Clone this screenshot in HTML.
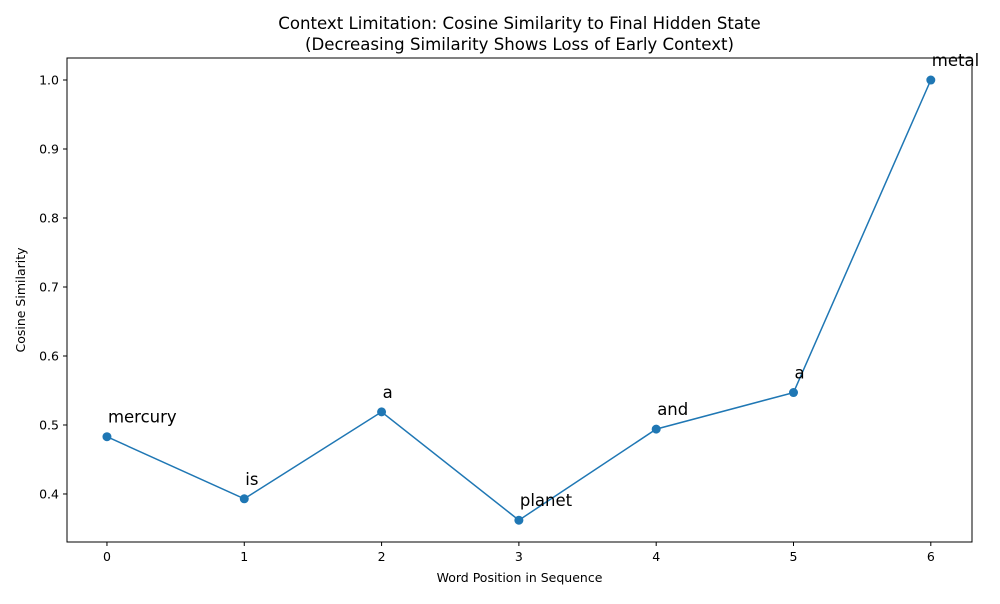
<!DOCTYPE html>
<html><head><meta charset="utf-8"><style>
body{margin:0;background:#fff;font-family:"DejaVu Sans","Liberation Sans",sans-serif;}
</style></head><body>
<svg id="chart" width="1000" height="600" xmlns="http://www.w3.org/2000/svg" font-family="DejaVu Sans, Liberation Sans, sans-serif">
<rect width="1000" height="600" fill="#fff"/>
<g id="g"></g>
</svg>
<script>
const categories=[0,1,2,3,4,5,6];
const words=["mercury","is","a","planet","and","a","metal"];
const values=[0.483,0.393,0.519,0.362,0.494,0.547,1.0];
const yTicks=[0.4,0.5,0.6,0.7,0.8,0.9,1.0];
const xTicks=[0,1,2,3,4,5,6];
const L=67,R=972,T=58,B=542;
const xMin=-0.291,xMax=6.3,yMin=0.3304,yMax=1.0319;
const X=v=>L+(v-xMin)/(xMax-xMin)*(R-L);
const Y=v=>B-(v-yMin)/(yMax-yMin)*(B-T);
const g=document.getElementById('g');
const NS="http://www.w3.org/2000/svg";
function mk(t,a,txt){const e=document.createElementNS(NS,t);for(const k in a)e.setAttribute(k,a[k]);if(txt!==undefined)e.textContent=txt;g.appendChild(e);return e;}
let e;
e=mk('rect',{x:L,y:T,width:R-L,height:B-T,fill:'none',stroke:'#000','stroke-width':1});


xTicks.forEach(v=>{
 e=mk('line',{x1:X(v),x2:X(v),y1:B,y2:B+4,stroke:'#000'});
 
 
 e=mk('text',{x:X(v),y:B+19,'font-size':12.5,'text-anchor':'middle'},String(v));
 
 
});
yTicks.forEach(v=>{
 e=mk('line',{x1:L-4,x2:L,y1:Y(v),y2:Y(v),stroke:'#000'});
 
 
 e=mk('text',{x:L-8,y:Y(v)+4.5,'font-size':12.5,'text-anchor':'end'},v.toFixed(1));
 
 
});
e=mk('polyline',{points:categories.map((c,i)=>X(c)+','+Y(values[i])).join(' '),fill:'none',stroke:'#1f77b4','stroke-width':1.5});


categories.forEach((c,i)=>{
 e=mk('circle',{cx:X(c),cy:Y(values[i]),r:4.5,fill:'#1f77b4'});
 
 
 e=mk('text',{x:X(c)+1,y:Y(values[i])-14,'font-size':16.5},words[i]);
 
 
});
e=mk('text',{x:(L+R)/2,y:29,'font-size':16.6,'text-anchor':'middle'},'Context Limitation: Cosine Similarity to Final Hidden State');


e=mk('text',{x:(L+R)/2,y:50,'font-size':16.6,'text-anchor':'middle'},'(Decreasing Similarity Shows Loss of Early Context)');


e=mk('text',{x:(L+R)/2,y:582,'font-size':12.5,'text-anchor':'middle'},'Word Position in Sequence');


e=mk('text',{x:0,y:0,'font-size':12.5,'text-anchor':'middle',transform:'translate(25,300) rotate(-90)'},'Cosine Similarity');


</script>
</body></html>
